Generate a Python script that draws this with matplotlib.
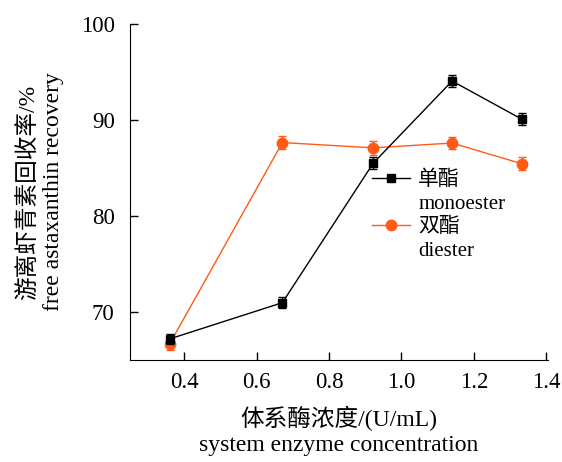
import matplotlib
matplotlib.use("Agg")
import matplotlib.pyplot as plt
from matplotlib.lines import Line2D

x_conc = [0.36, 0.671, 0.922, 1.14, 1.332]
mono = [67.2, 70.97, 85.5, 94.06, 90.1]
mono_err = [0.5, 0.55, 0.6, 0.6, 0.65]
di = [66.7, 87.65, 87.1, 87.6, 85.45]
di_err = [0.7, 0.65, 0.75, 0.65, 0.65]
xticks = [0.4, 0.6, 0.8, 1.0, 1.2, 1.4]
yticks = [70, 80, 90, 100]
legend_cn = ['单酯', '双酯']
legend_en = ['monoester', 'diester']

fam = ['Liberation Serif', 'Noto Sans CJK SC']
plt.rcParams['font.family'] = fam

fig = plt.figure(figsize=(5.62, 4.62), dpi=100)
ax = fig.add_axes([130/562, 1-360/462, 418/562, 336/462])

orange = '#FF5B14'
ax.errorbar(x_conc, mono, yerr=mono_err, color='black', marker='s', ms=6,
            lw=1.0, capsize=3, elinewidth=1.0, capthick=1.0, zorder=3)
ax.errorbar(x_conc, di, yerr=di_err, color=orange, marker='o', ms=7.5,
            lw=1.0, capsize=3, elinewidth=1.0, capthick=1.0, zorder=2)

ax.set_xlim(0.25, 1.405)
ax.set_ylim(65, 100)
ax.set_xticks(xticks)
ax.set_xticklabels([f'{v:.1f}' for v in xticks])
ax.set_yticks(yticks)
ax.spines['top'].set_visible(False)
ax.spines['right'].set_visible(False)
ax.tick_params(direction='in', length=6, width=1, labelsize=16.5)
ax.tick_params(axis='x', pad=9)
ax.tick_params(axis='y', pad=11)

ax.set_xlabel('体系酶浓度/(U/mL)\nsystem enzyme concentration', fontsize=17,
              linespacing=1.3)
ax.xaxis.set_label_coords(0.5, -0.135)
ax.set_ylabel('游离虾青素回收率/%\nfree astaxanthin recovery', fontsize=17,
              linespacing=1.25)
ax.yaxis.set_label_coords(-0.158, 0.5)

blank = Line2D([], [], color='none')
handles = [Line2D([], [], color='black', marker='s', ms=6, lw=1.0), blank,
           Line2D([], [], color=orange, marker='o', ms=7.5, lw=1.0), blank]
labels = [legend_cn[0], legend_en[0], legend_cn[1], legend_en[1]]
ax.legend(handles, labels, loc='upper left', bbox_to_anchor=(0.58, 0.565),
          frameon=False, fontsize=15, handlelength=1.8, handletextpad=0.4,
          labelspacing=0.2, borderaxespad=0, borderpad=0)

fig.savefig('out.png', dpi=100)
